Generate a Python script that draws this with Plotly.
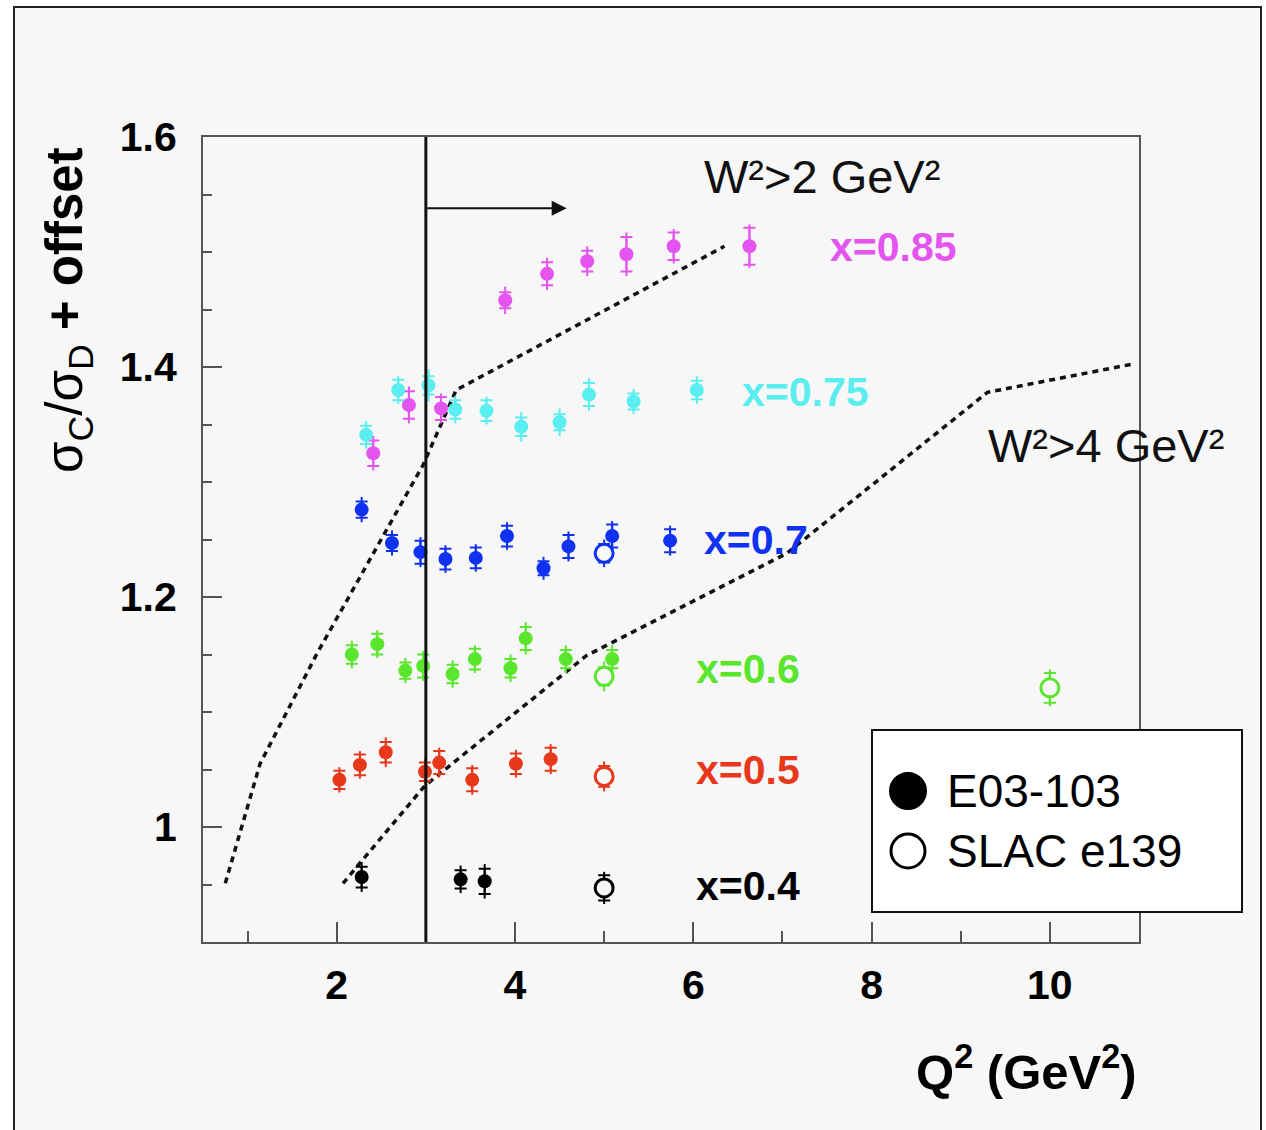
import plotly.graph_objects as go

# ---- E03-103 carbon/deuterium cross-section ratios (offset per x bin) ----
q2_x085 = [2.41, 2.81, 3.17, 3.89, 4.36, 4.81, 5.25, 5.78, 6.63]
r_x085 = [1.325, 1.367, 1.364, 1.458, 1.481, 1.492, 1.498, 1.505, 1.505]
stat_x085 = [0.011, 0.012, 0.010, 0.007, 0.010, 0.009, 0.015, 0.012, 0.016]
tot_x085 = [0.015, 0.016, 0.013, 0.012, 0.014, 0.013, 0.019, 0.015, 0.019]

q2_x075 = [2.33, 2.69, 3.03, 3.33, 3.68, 4.07, 4.50, 4.83, 5.33, 6.04]
r_x075 = [1.341, 1.380, 1.384, 1.363, 1.362, 1.348, 1.352, 1.376, 1.370, 1.380]
stat_x075 = [0.008, 0.009, 0.008, 0.008, 0.009, 0.008, 0.007, 0.010, 0.007, 0.008]
tot_x075 = [0.012, 0.012, 0.014, 0.012, 0.012, 0.013, 0.012, 0.014, 0.011, 0.012]

q2_x070 = [2.28, 2.62, 2.94, 3.22, 3.56, 3.91, 4.32, 4.60, 5.09, 5.74]
r_x070 = [1.276, 1.247, 1.239, 1.233, 1.234, 1.253, 1.225, 1.244, 1.253, 1.249]
stat_x070 = [0.007, 0.007, 0.010, 0.009, 0.009, 0.009, 0.006, 0.010, 0.010, 0.010]
tot_x070 = [0.011, 0.011, 0.013, 0.012, 0.012, 0.012, 0.010, 0.013, 0.013, 0.013]

q2_x060 = [2.17, 2.455, 2.77, 2.97, 3.30, 3.55, 3.95, 4.12, 4.57, 5.09]
r_x060 = [1.150, 1.159, 1.136, 1.140, 1.133, 1.146, 1.138, 1.164, 1.146, 1.146]
stat_x060 = [0.008, 0.009, 0.007, 0.010, 0.008, 0.009, 0.008, 0.010, 0.008, 0.008]
tot_x060 = [0.012, 0.012, 0.011, 0.013, 0.012, 0.012, 0.012, 0.014, 0.012, 0.012]

q2_x050 = [2.03, 2.26, 2.55, 2.99, 3.15, 3.52, 4.01, 4.40]
r_x050 = [1.041, 1.054, 1.065, 1.048, 1.056, 1.041, 1.055, 1.059]
stat_x050 = [0.008, 0.009, 0.009, 0.008, 0.010, 0.010, 0.009, 0.010]
tot_x050 = [0.011, 0.012, 0.013, 0.011, 0.013, 0.013, 0.012, 0.013]

q2_x040 = [2.28, 3.39, 3.66]
r_x040 = [0.9565, 0.9545, 0.9528]
stat_x040 = [0.009, 0.008, 0.011]
tot_x040 = [0.013, 0.012, 0.015]

# ---- SLAC e139 points ----
slac_q2_x070 = [5.0]
slac_r_x070 = [1.238]
slac_stat_x070 = [0.008]
slac_tot_x070 = [0.012]

slac_q2_x060 = [5.0, 10.0]
slac_r_x060 = [1.131, 1.121]
slac_stat_x060 = [0.008, 0.013]
slac_tot_x060 = [0.013, 0.016]

slac_q2_x050 = [5.0]
slac_r_x050 = [1.044]
slac_stat_x050 = [0.009]
slac_tot_x050 = [0.013]

slac_q2_x040 = [5.0]
slac_r_x040 = [0.947]
slac_stat_x040 = [0.011]
slac_tot_x040 = [0.014]

# ---- kinematic limits W^2 > 2 and W^2 > 4 GeV^2 ----
w2cut2_q2 = [0.75, 1.14, 1.78, 2.97, 3.34, 6.35]
w2cut2_r = [0.951, 1.055, 1.151, 1.315, 1.380, 1.505]
w2cut4_q2 = [2.07, 2.99, 4.80, 7.05, 9.30, 10.96]
w2cut4_r = [0.951, 1.036, 1.149, 1.238, 1.378, 1.403]

# ---- bin labels ----
bin_labels = ["x=0.85", "x=0.75", "x=0.7", "x=0.6", "x=0.5", "x=0.4"]
label_q2 = [7.51, 6.52, 6.10, 6.01, 6.01, 6.01]
label_r = [1.5045, 1.378, 1.250, 1.137, 1.0495, 0.949]

C_MAG = "#e455f0"
C_CYA = "#5aeef0"
C_BLU = "#1032f0"
C_GRN = "#5ae62d"
C_RED = "#e8381c"
C_BLK = "#000000"
bin_colors = [C_MAG, C_CYA, C_BLU, C_GRN, C_RED, C_BLK]

FONT = "Liberation Sans, Arial, Helvetica, sans-serif"
PLOT_BG = "#f7f7f7"

# figure geometry (pixels)
W, H = 1266, 1130
ML, MR, MT, MB = 203, 127, 137, 188
PW, PH = W - ML - MR, H - MT - MB


def px(xp):
    return (xp - ML) / PW


def py(yp):
    return (H - MB - yp) / PH


fig = go.Figure()


def add_points(q2, r, stat, tot, color, filled):
    # total uncertainty: plain bar
    fig.add_trace(go.Scatter(
        x=q2, y=r, mode="markers",
        marker=dict(size=1, color=color, opacity=0),
        error_y=dict(type="data", array=tot, color=color, thickness=2, width=0),
        showlegend=False, hoverinfo="skip"))
    # statistical uncertainty with caps + marker
    if filled:
        marker = dict(symbol="circle", size=14, color=color, line=dict(width=0))
    else:
        marker = dict(symbol="circle", size=18, color=PLOT_BG, line=dict(width=3, color=color))
    fig.add_trace(go.Scatter(
        x=q2, y=r, mode="markers", marker=marker,
        error_y=dict(type="data", array=stat, color=color, thickness=2, width=6),
        showlegend=False))


# kinematic-limit curves
for lx, ly in [(w2cut2_q2, w2cut2_r), (w2cut4_q2, w2cut4_r)]:
    fig.add_trace(go.Scatter(x=lx, y=ly, mode="lines",
                             line=dict(color="#111111", width=3.5, dash="6px,5px"),
                             showlegend=False, hoverinfo="skip"))

add_points(q2_x085, r_x085, stat_x085, tot_x085, C_MAG, True)
add_points(q2_x075, r_x075, stat_x075, tot_x075, C_CYA, True)
add_points(q2_x070, r_x070, stat_x070, tot_x070, C_BLU, True)
add_points(q2_x060, r_x060, stat_x060, tot_x060, C_GRN, True)
add_points(q2_x050, r_x050, stat_x050, tot_x050, C_RED, True)
add_points(q2_x040, r_x040, stat_x040, tot_x040, C_BLK, True)
add_points(slac_q2_x070, slac_r_x070, slac_stat_x070, slac_tot_x070, C_BLU, False)
add_points(slac_q2_x060, slac_r_x060, slac_stat_x060, slac_tot_x060, C_GRN, False)
add_points(slac_q2_x050, slac_r_x050, slac_stat_x050, slac_tot_x050, C_RED, False)
add_points(slac_q2_x040, slac_r_x040, slac_stat_x040, slac_tot_x040, C_BLK, False)

annotations = []
for txt, xq, yr, col in zip(bin_labels, label_q2, label_r, bin_colors):
    annotations.append(dict(x=xq, y=yr, xref="x", yref="y", text=txt, showarrow=False,
                            xanchor="left", yanchor="middle",
                            font=dict(family=FONT, size=41, color=col, weight="bold")))

annotations += [
    dict(x=6.10, y=1.566, xref="x", yref="y", text="W²>2 GeV²", showarrow=False,
         xanchor="left", yanchor="middle", font=dict(family=FONT, size=47, color="#111111")),
    dict(x=9.28, y=1.332, xref="x", yref="y", text="W²>4 GeV²", showarrow=False,
         xanchor="left", yanchor="middle", font=dict(family=FONT, size=47, color="#111111")),
    # arrow pointing to the W^2 > 2 region
    dict(x=4.58, y=1.538, ax=3.0, ay=1.538, xref="x", yref="y", axref="x", ayref="y",
         text="", showarrow=True, arrowhead=2, arrowsize=1.5, arrowwidth=2, arrowcolor="#111111"),
    # axis titles
    dict(x=px(68), y=py(310), xref="paper", yref="paper", textangle=-90,
         text="σ<sub>C</sub>/σ<sub>D</sub> <b>+ offset</b>", showarrow=False,
         xanchor="center", yanchor="middle", font=dict(family=FONT, size=51, color="black")),
    dict(x=1.0, y=py(1068), xref="paper", yref="paper",
         text="<b>Q<sup>2</sup> (GeV<sup>2</sup>)</b>", showarrow=False,
         xanchor="right", yanchor="middle", font=dict(family=FONT, size=49, color="black")),
    # legend entries
    dict(x=px(945), y=py(791), xref="paper", yref="paper", text="E03-103", showarrow=False,
         xanchor="left", yanchor="middle", font=dict(family=FONT, size=46, color="black")),
    dict(x=px(945), y=py(851), xref="paper", yref="paper", text="SLAC e139", showarrow=False,
         xanchor="left", yanchor="middle", font=dict(family=FONT, size=46, color="black")),
]

shapes = [
    # outer frame
    dict(type="rect", xref="paper", yref="paper", x0=px(14), x1=px(1261), y0=py(1145), y1=py(7),
         fillcolor=PLOT_BG, line=dict(color="#222222", width=2), layer="below"),
    # Q^2 = 3 cut
    dict(type="line", xref="x", yref="paper", x0=3, x1=3, y0=0, y1=1,
         line=dict(color="#111111", width=3), layer="above"),
    # legend box
    dict(type="rect", xref="paper", yref="paper", x0=px(872), x1=px(1242), y0=py(912), y1=py(730),
         fillcolor="white", line=dict(color="#111111", width=2), layer="above"),
    dict(type="circle", xref="paper", yref="paper", x0=px(890), x1=px(926), y0=py(809), y1=py(773),
         fillcolor="black", line=dict(color="black", width=2), layer="above"),
    dict(type="circle", xref="paper", yref="paper", x0=px(891), x1=px(925), y0=py(868), y1=py(834),
         fillcolor="white", line=dict(color="black", width=3), layer="above"),
]

axis_col = "#555555"
fig.update_layout(
    width=W, height=H,
    margin=dict(l=ML, r=MR, t=MT, b=MB, pad=0),
    paper_bgcolor="white", plot_bgcolor=PLOT_BG,
    showlegend=False,
    annotations=annotations, shapes=shapes,
    xaxis=dict(range=[0.5, 11], tickvals=[2, 4, 6, 8, 10], ticks="inside", ticklen=20,
               tickwidth=2, tickcolor=axis_col, showline=True, linecolor=axis_col, linewidth=2,
               mirror=True, showgrid=False, zeroline=False, ticklabelstandoff=6,
               tickfont=dict(family=FONT, size=41, color="black", weight="bold"),
               minor=dict(tickvals=[1, 3, 5, 7, 9], ticks="inside", ticklen=11,
                          tickwidth=2, tickcolor=axis_col, showgrid=False)),
    yaxis=dict(range=[0.9, 1.6], tickvals=[1.0, 1.2, 1.4, 1.6], ticktext=["1", "1.2", "1.4", "1.6"],
               ticks="inside", ticklen=19, tickwidth=2, tickcolor=axis_col, showline=True,
               linecolor=axis_col, linewidth=2, mirror=True, showgrid=False, zeroline=False,
               ticklabelstandoff=16,
               tickfont=dict(family=FONT, size=41, color="black", weight="bold"),
               minor=dict(tickvals=[0.95, 1.05, 1.1, 1.15, 1.25, 1.3, 1.35, 1.45, 1.5, 1.55],
                          ticks="inside", ticklen=9, tickwidth=2, tickcolor=axis_col,
                          showgrid=False)),
)

fig.write_html("out.html")
